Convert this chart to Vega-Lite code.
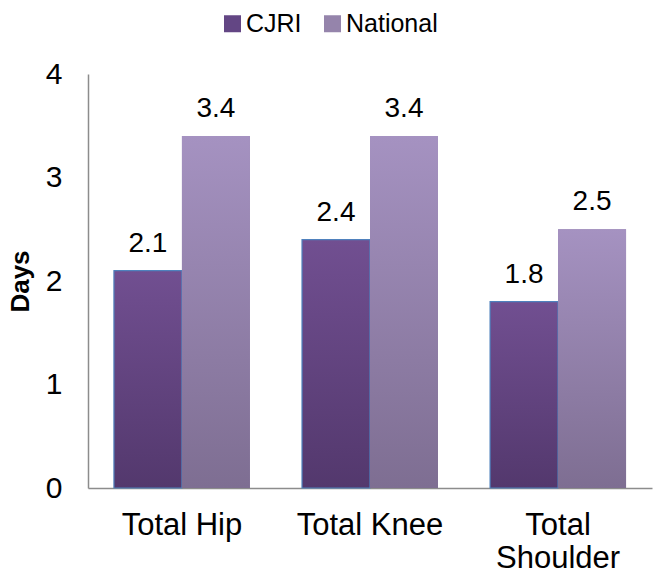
{
  "$schema": "https://vega.github.io/schema/vega-lite/v6.json",
  "autosize": {"type": "none"},
  "width": 564,
  "height": 414,
  "padding": {"left": 88, "top": 74, "right": 7, "bottom": 90},
  "background": "white",
  "config": {"view": {"stroke": null}, "font": "Liberation Sans"},
  "data": {"values": [
    {"cat": "Total Hip", "series": "CJRI", "value": 2.1},
    {"cat": "Total Hip", "series": "National", "value": 3.4},
    {"cat": "Total Knee", "series": "CJRI", "value": 2.4},
    {"cat": "Total Knee", "series": "National", "value": 3.4},
    {"cat": "Total Shoulder", "series": "CJRI", "value": 1.8},
    {"cat": "Total Shoulder", "series": "National", "value": 2.5}
  ]},
  "encoding": {
    "x": {"field": "cat", "type": "nominal", "sort": null,
      "scale": {"paddingInner": 0.277, "paddingOuter": 0.138},
      "axis": {"title": null, "labelAngle": 0, "labelFontSize": 31, "labelColor": "#000", "labelPadding": 22,
        "ticks": false, "domainColor": "#8c8c8c", "domainWidth": 1.5, "labelBaseline": "top",
        "labelExpr": "datum.label == 'Total Shoulder' ? ['Total', 'Shoulder'] : datum.label", "labelLineHeight": 33}},
    "xOffset": {"field": "series", "type": "nominal", "sort": ["CJRI", "National"]},
    "y": {"field": "value", "type": "quantitative",
      "scale": {"domain": [0, 4]},
      "axis": {"title": "Days", "titleFontSize": 26, "titleFontWeight": "bold", "titleColor": "#000", "titlePadding": 12,
        "values": [0, 1, 2, 3, 4], "format": "d", "grid": false, "ticks": false, "labelFontSize": 30, "labelColor": "#000",
        "labelPadding": 26, "domainColor": "#8c8c8c", "domainWidth": 1.5}}
  },
  "layer": [
    {
      "mark": {"type": "bar"},
      "encoding": {
        "color": {"field": "series", "type": "nominal", "sort": ["CJRI", "National"],
          "scale": {"domain": ["CJRI", "National"], "range": ["#634684", "#9584ab"]},
          "legend": {"title": null, "orient": "none", "direction": "horizontal", "legendX": 132, "legendY": -63,
            "symbolType": "square", "symbolSize": 289, "symbolOpacity": 1, "labelFontSize": 25, "labelColor": "#000",
            "columnPadding": 18, "labelOffset": 1, "symbolStrokeWidth": 0}}
      }
    },
    {
      "transform": [{"filter": "datum.series == 'CJRI'"}],
      "mark": {"type": "bar", "stroke": "#4f81bd", "strokeWidth": 1.2,
        "fill": {"gradient": "linear", "x1": 0, "y1": 0, "x2": 0, "y2": 1,
          "stops": [{"offset": 0, "color": "#714f91"}, {"offset": 1, "color": "#53386d"}]}}
    },
    {
      "transform": [{"filter": "datum.series == 'National'"}],
      "mark": {"type": "bar",
        "fill": {"gradient": "linear", "x1": 0, "y1": 0, "x2": 0, "y2": 1,
          "stops": [{"offset": 0, "color": "#a592c1"}, {"offset": 1, "color": "#7e6e92"}]}}
    },
    {
      "mark": {"type": "text", "fontSize": 28, "baseline": "alphabetic", "dy": -19, "color": "#000"},
      "encoding": {"text": {"field": "value", "type": "quantitative", "format": ".1f"}}
    }
  ]
}
